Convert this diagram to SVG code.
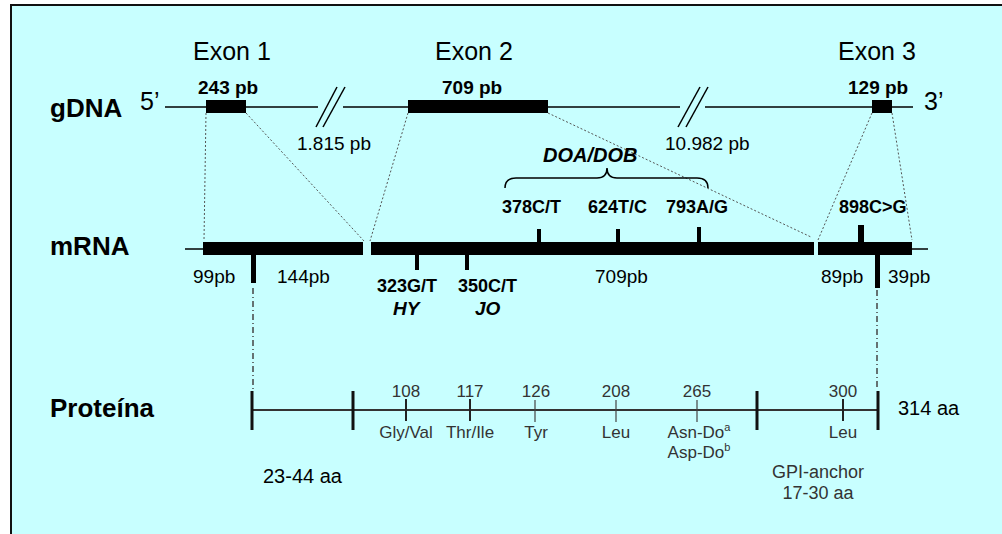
<svg xmlns="http://www.w3.org/2000/svg" width="1002" height="534" viewBox="0 0 1002 534">
<defs>
<style>
text{font-family:"Liberation Sans",Arial,sans-serif;fill:#000}
.row{font-size:26px;font-weight:bold}
.exon{font-size:25px}
.bp{font-size:19px;font-weight:bold}
.intr{font-size:19px}
.mut{font-size:18px;font-weight:bold}
.bi{font-size:20px;font-weight:bold;font-style:italic}
.bi2{font-size:19px;font-weight:bold;font-style:italic}
.pn{font-size:17px;fill:#333;text-anchor:middle}
.aa{font-size:20px}
.dot{stroke:#555;stroke-width:1;stroke-dasharray:2,2;fill:none}
.dd{stroke:#444;stroke-width:1.5;stroke-dasharray:6,3,1,3;fill:none}
.thin{stroke:#000;stroke-width:1.5;fill:none}
.box{fill:#000}
</style>
</defs>
<rect x="11" y="5" width="1000" height="540" fill="#c8ffff" stroke="#111" stroke-width="2"/>

<g id="connectors">
<line class="thin" x1="165" y1="107" x2="318" y2="107"/>
<line class="thin" x1="343" y1="107" x2="680" y2="107"/>
<line class="thin" x1="705" y1="107" x2="913" y2="107"/>
<line class="thin" x1="316" y1="127" x2="337" y2="87"/>
<line class="thin" x1="323" y1="127" x2="345" y2="87"/>
<line class="thin" x1="678" y1="127" x2="700" y2="87"/>
<line class="thin" x1="686" y1="127" x2="708" y2="87"/>
<line class="dot" x1="206" y1="113" x2="204" y2="240"/>
<line class="dot" x1="246" y1="113" x2="364" y2="241"/>
<line class="dot" x1="408" y1="113" x2="370" y2="241"/>
<line class="dot" x1="548" y1="113" x2="811" y2="237"/>
<line class="dot" x1="872" y1="113" x2="818" y2="240"/>
<line class="dot" x1="892" y1="113" x2="912" y2="240"/>
<line class="thin" x1="185" y1="249" x2="203" y2="249"/>
<line class="thin" x1="912" y1="249" x2="928" y2="249"/>
<line class="dd" x1="253" y1="288" x2="253" y2="389"/>
<line class="dd" x1="877" y1="290" x2="877" y2="389"/>
<path class="thin" d="M505,188 Q505,178 516,178 L597,178 Q607,178 607,168 Q607,178 617,178 L697,178 Q708,178 708,188"/>
</g>

<g id="labels">
<text class="exon" x="193" y="60">Exon 1</text>
<text class="exon" x="435" y="60">Exon 2</text>
<text class="exon" x="838" y="60">Exon 3</text>
</g>

<g id="gdna">
<text class="row" x="50" y="117">gDNA</text>
<text class="exon" x="140" y="110">5’</text>
<text class="exon" x="924" y="110">3’</text>
<rect class="box" x="206" y="100" width="40" height="13"/>
<rect class="box" x="408" y="100" width="140" height="13"/>
<rect class="box" x="872" y="100" width="20" height="13"/>
<text class="bp" x="198" y="94">243 pb</text>
<text class="bp" x="442" y="94">709 pb</text>
<text class="bp" x="848" y="94">129 pb</text>
<text class="intr" x="297" y="150">1.815 pb</text>
<text class="intr" x="665" y="150">10.982 pb</text>
</g>

<g id="mrna">
<text class="row" x="50" y="255">mRNA</text>
<rect class="box" x="203" y="242" width="160" height="13"/>
<rect class="box" x="371" y="242" width="443" height="13"/>
<rect class="box" x="818" y="242" width="94" height="13"/>
<rect class="box" x="537" y="229" width="4" height="14"/>
<rect class="box" x="616" y="229" width="4" height="14"/>
<rect class="box" x="697" y="227" width="4" height="16"/>
<rect class="box" x="858" y="225" width="6" height="18"/>
<rect class="box" x="251" y="254" width="5" height="29"/>
<rect class="box" x="415" y="254" width="4" height="16"/>
<rect class="box" x="465" y="254" width="4" height="16"/>
<rect class="box" x="875" y="254" width="5" height="34"/>
<text class="intr" x="193" y="283">99pb</text>
<text class="intr" x="277" y="283">144pb</text>
<text class="intr" x="595" y="283">709pb</text>
<text class="intr" x="821" y="283">89pb</text>
<text class="intr" x="888" y="283">39pb</text>
<text class="mut" x="377" y="292">323G/T</text>
<text class="mut" x="458" y="292">350C/T</text>
<text class="bi2" x="393" y="315">HY</text>
<text class="bi2" x="475" y="315">JO</text>
<text class="mut" x="502" y="213">378C/T</text>
<text class="mut" x="588" y="213">624T/C</text>
<text class="mut" x="666" y="213">793A/G</text>
<text class="mut" x="839" y="213">898C&gt;G</text>
<text class="bi" x="543" y="162">DOA/DOB</text>
</g>

<g id="protein">
<text class="row" x="50" y="417">Proteína</text>
<line x1="252" y1="410" x2="878" y2="410" stroke="#333" stroke-width="2"/>
<g stroke="#111" stroke-width="3">
<line x1="252" y1="391" x2="252" y2="430"/>
<line x1="353" y1="391" x2="353" y2="430"/>
<line x1="757" y1="391" x2="757" y2="430"/>
<line x1="878" y1="391" x2="878" y2="430"/>
</g>
<g stroke="#222" stroke-width="2">
<line x1="406" y1="399" x2="406" y2="421"/>
<line x1="470" y1="399" x2="470" y2="421"/>
<line x1="843" y1="399" x2="843" y2="421"/>
</g>
<g stroke="#444" stroke-width="1.2">
<line x1="535" y1="400" x2="535" y2="422"/>
<line x1="616" y1="400" x2="616" y2="422"/>
<line x1="697" y1="400" x2="697" y2="422"/>
</g>
<text class="pn" x="406" y="397">108</text>
<text class="pn" x="470" y="397">117</text>
<text class="pn" x="536" y="397">126</text>
<text class="pn" x="616" y="397">208</text>
<text class="pn" x="697" y="397">265</text>
<text class="pn" x="843" y="397">300</text>
<text class="pn" x="406" y="438">Gly/Val</text>
<text class="pn" x="470" y="438">Thr/Ile</text>
<text class="pn" x="536" y="438">Tyr</text>
<text class="pn" x="616" y="438">Leu</text>
<text class="pn" x="699" y="438">Asn-Do<tspan font-size="11" dy="-7">a</tspan></text>
<text class="pn" x="699" y="458">Asp-Do<tspan font-size="11" dy="-7">b</tspan></text>
<text class="pn" x="843" y="438">Leu</text>
<text class="aa" x="898" y="415">314 aa</text>
<text class="aa" x="263" y="483">23-44 aa</text>
<text class="pn" x="818" y="478" style="font-size:18px">GPI-anchor</text>
<text class="pn" x="818" y="499" style="font-size:18px">17-30 aa</text>
</g>
</svg>
